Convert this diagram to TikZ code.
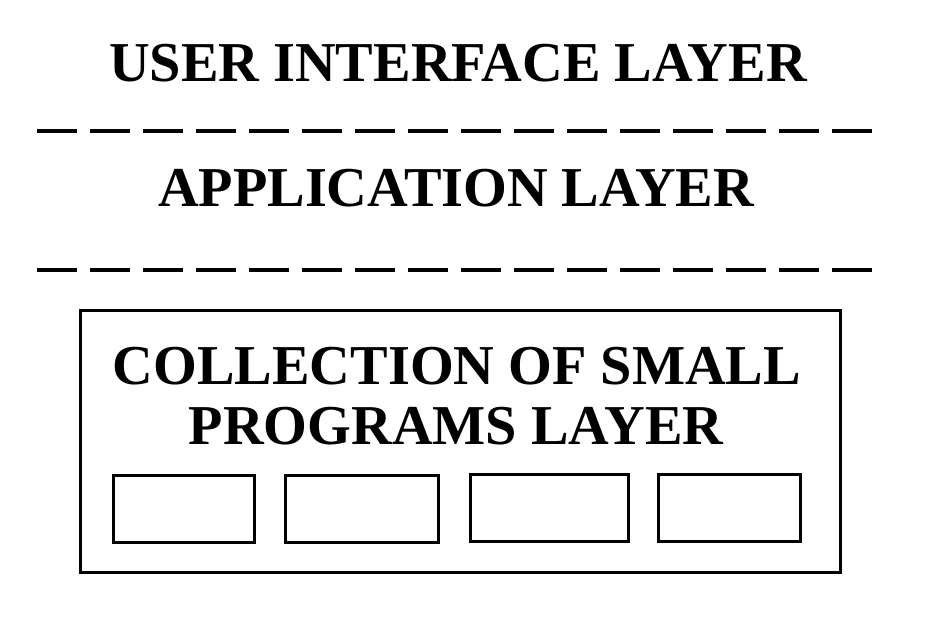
\documentclass[tikz,border=0pt]{standalone}
\usepackage{fontspec}
\setmainfont{Liberation Serif}
\begin{document}
\begin{tikzpicture}[x=1pt,y=-1pt,
  lbl/.style={font=\fontsize{56.3}{62}\selectfont\bfseries, inner sep=0pt, anchor=base},
  sep/.style={line width=4pt, dash pattern=on 40pt off 13pt},
  frame/.style={draw, line width=3pt},
  slot/.style={draw, line width=3pt}]
\useasboundingbox (0,0) rectangle (946,642);
\node[lbl] (ui) at (458,82) {USER INTERFACE LAYER};
\coordinate (d1a) at (37,131); \coordinate (d1b) at (873,131);
\draw[sep] (d1a) -- (d1b);
\node[lbl] (app) at (456,206) {APPLICATION LAYER};
\coordinate (d2a) at (37,270); \coordinate (d2b) at (873,270);
\draw[sep] (d2a) -- (d2b);
\node[frame, minimum width=760pt, minimum height=262pt, inner sep=0pt] (outer) at (460,441) {};
\node[lbl] (t1) at (457,384) {COLLECTION OF SMALL};
\node[lbl] (t2) at (456,444) {PROGRAMS LAYER};
\node[slot, minimum width=141pt, minimum height=67pt, inner sep=0pt] (s1) at (183.5,508.5) {};
\node[slot, minimum width=153pt, minimum height=67pt, inner sep=0pt] (s2) at (361.5,508.5) {};
\node[slot, minimum width=158pt, minimum height=67pt, inner sep=0pt] (s3) at (549,508) {};
\node[slot, minimum width=142pt, minimum height=67pt, inner sep=0pt] (s4) at (729,507.5) {};
\end{tikzpicture}
\end{document}
